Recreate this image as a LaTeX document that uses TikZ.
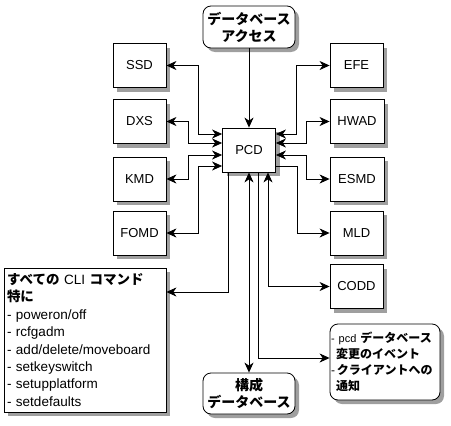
\documentclass[tikz,border=0pt]{standalone}
\usepackage{fontspec}
\setmainfont{Liberation Sans}
\newfontfamily\jpfont{Noto Sans CJK JP}
\usepackage{tikz}
\usetikzlibrary{arrows.meta, positioning}
\def\jb#1{{\jpfont\bfseries #1}}

\begin{document}
\begin{tikzpicture}[x=1pt, y=-1pt,
    unit/.style={draw, fill=white, line width=0.8pt, minimum width=53pt, minimum height=44pt, inner sep=2pt,
      font=\fontsize{13}{15}\selectfont},
    store/.style={unit, rounded corners=8pt, minimum width=92pt, minimum height=42pt, align=center,
      font=\fontsize{14}{17}\selectfont},
    shadowfill/.style={fill=gray!75},
    tip/.tip={Stealth[length=10pt, width=9pt, inset=3pt]},
    link/.style={line width=0.8pt, -tip},
    both/.style={line width=0.8pt, tip-tip}]
  \useasboundingbox (0,0) rectangle (451,426);
  % shadows
  \foreach \xa/\ya/\xb/\yb in {222.5/128/275.5/172, 113/43.5/166/87.5, 113/99.5/166/143.5, 113/157/166/201,
      113/211/166/255, 4/268/166/412, 330/43.5/383/87.5, 330/99.5/384/143.5, 330/157/384/201,
      330/211/383/255, 330/264.5/383/308.5}
    \fill[shadowfill] (\xa+4,\ya+4) rectangle (\xb+4,\yb+4);
  \foreach \xa/\ya/\xb/\yb in {203/6/295/48, 203/373/295/414, 330/324/440/400}
    \fill[shadowfill, rounded corners=8pt] (\xa+4,\ya+4) rectangle (\xb+4,\yb+4);
  % center
  \node[unit] (pcd) at (249,150) {PCD};
  \node[store] (dbacc) at (249,27) {\jb{データベース}\\\jb{アクセス}};
  \node[store, minimum height=41pt] (cfgdb) at (249,393.5) {\jb{構成}\\\jb{データベース}};
  % left column
  \node[unit] (ssd) at (139.5,65.5) {SSD};
  \node[unit] (dxs) at (139.5,121.5) {DXS};
  \node[unit] (kmd) at (139.5,179) {KMD};
  \node[unit] (fomd) at (139.5,233) {FOMD};
  \node[unit, minimum width=162pt, minimum height=144pt, align=left, text width=156pt,
    font=\fontsize{13.5}{17.4}\selectfont] (cli) at (85,340)
    {\jb{すべての} CLI \jb{コマンド}\\\jb{特に}\\- poweron/off\\- rcfgadm\\- add/delete/moveboard\\- setkeyswitch\\- setupplatform\\- setdefaults};
  % right column
  \node[unit] (efe) at (356.5,65.5) {EFE};
  \node[unit, minimum width=54pt] (hwad) at (357,121.5) {HWAD};
  \node[unit, minimum width=54pt] (esmd) at (357,179) {ESMD};
  \node[unit] (mld) at (356.5,233) {MLD};
  \node[unit] (codd) at (356.5,286.5) {CODD};
  \node[unit, rounded corners=8pt, minimum width=110pt, minimum height=76pt, align=left, text width=108pt,
    inner sep=1pt, font=\fontsize{12}{16}\selectfont] (event) at (385,362)
    {{\fontsize{11}{16}\selectfont - pcd} \jb{データベース}\\\hspace*{5pt}\jb{変更のイベント}\\-\,\jb{クライアントへの}\\\hspace*{5pt}\jb{通知}};
  % connectors
  \draw[link] (dbacc) -- (pcd);
  \draw[both] (ssd.east) -- ++(32,0) |- ([yshift=16pt]pcd.west);
  \draw[both] (dxs.east) -- ++(22,0) |- ([yshift=7pt]pcd.west);
  \draw[both] (kmd.east) -- ++(22,0) |- ([yshift=-5pt]pcd.west);
  \draw[both] (fomd.east) -- ++(32,0) |- ([yshift=-16pt]pcd.west);
  \draw[both] (efe.west) -- ++(-33,0) |- ([yshift=16pt]pcd.east);
  \draw[both] (hwad.west) -- ++(-23,0) |- ([yshift=7pt]pcd.east);
  \draw[both] (esmd.west) -- ++(-23,0) |- ([yshift=-5pt]pcd.east);
  \draw[link] ([yshift=-16pt]pcd.east) -| ++(21,67) -- (mld.west);
  \draw[link] ([xshift=-21pt]pcd.south) |- ([yshift=48pt]cli.east);
  \draw[both] (pcd) -- (cfgdb);
  \draw[link] ([xshift=9pt]pcd.south) |- ([yshift=4pt]event.west);
  \draw[both] (codd.west) -| ([xshift=19pt]pcd.south);
\end{tikzpicture}
\end{document}
